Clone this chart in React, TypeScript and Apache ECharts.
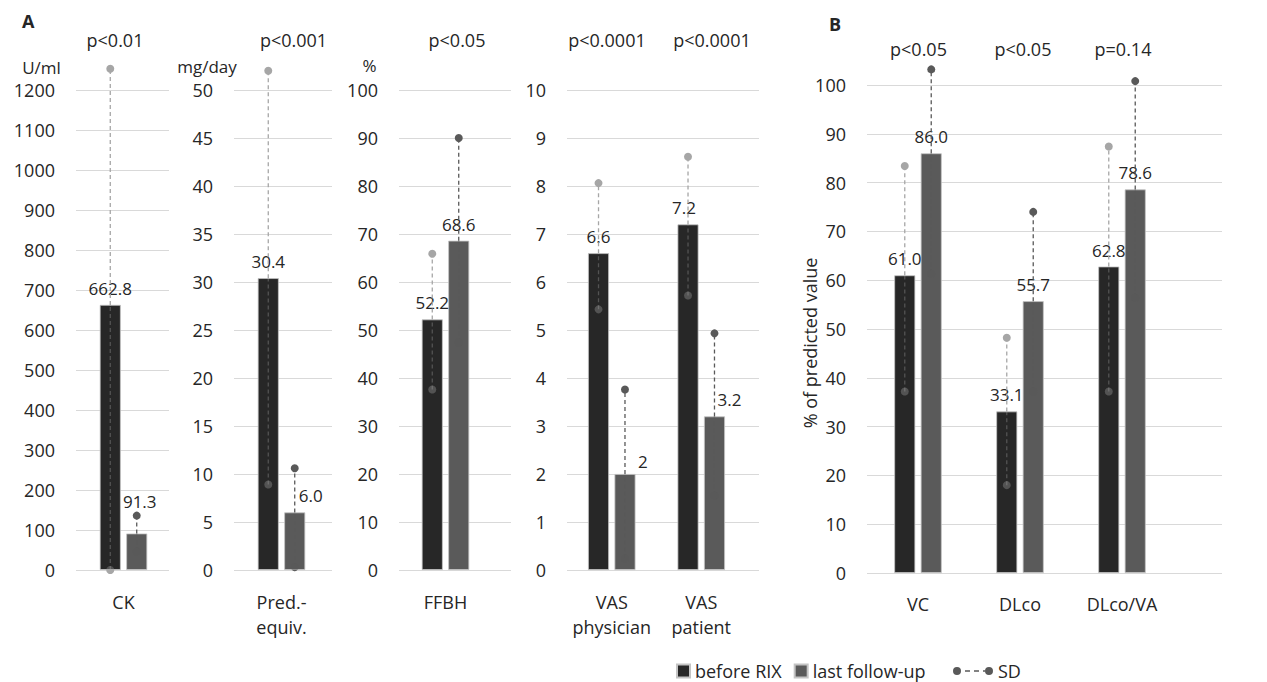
import React, { useEffect, useRef } from "react";
import * as echarts from "echarts";

// ---------- data ----------
const ckCategories = ["CK"];
const ckBefore = [662.8];
const ckAfter = [91.3];
const ckBeforeSd = [[1253, 0]]; // [upper dot, lower dot]
const ckAfterSd = [[136, 46]];

const predCategories = ["Pred.-\nequiv."];
const predBefore = [30.4];
const predAfter = [6.0];
const predBeforeSd = [[52.0, 8.9]];
const predAfterSd = [[10.6, 0.3]];

const ffbhCategories = ["FFBH"];
const ffbhBefore = [52.2];
const ffbhAfter = [68.6];
const ffbhBeforeSd = [[65.9, 37.6]];
const ffbhAfterSd = [[90.0, 47.4]];

const vasCategories = ["VAS\nphysician", "VAS\npatient"];
const vasBefore = [6.6, 7.2];
const vasAfter = [2, 3.2];
const vasBeforeSd = [[8.06, 5.43], [8.61, 5.72]];
const vasAfterSd = [[3.76, 0.24], [4.93, 1.55]];

const lungCategories = ["VC", "DLco", "DLco/VA"];
const lungBefore = [61.0, 33.1, 62.8];
const lungAfter = [86.0, 55.7, 78.6];
const lungBeforeSd = [[83.4, 37.2], [48.2, 18.0], [87.4, 37.2]];
const lungAfterSd = [[103.2, 61.3], [74.0, 37.2], [100.8, 56.4]];

const axisMax = [1200, 50, 100, 10, 100];
const axisInterval = [100, 5, 10, 1, 10];
const unitLabels = ["U/ml", "mg/day", "%"];
const pValuesA = ["p<0.01", "p<0.001", "p<0.05", "p<0.0001", "p<0.0001"];
const pValuesB = ["p<0.05", "p<0.05", "p=0.14"];
const seriesNames = ["before RIX", "last follow-up", "SD"];

// ---------- styles / layout ----------
const FONT = "'Open Sans', 'Noto Sans', sans-serif";
const TXT = "#262626";
const GRID = "#d9d9d9";
const C_BEFORE = "#272727";
const C_AFTER = "#5a5a5a";
const SD_BEFORE = "#a6a6a6";
const SD_AFTER = "#595959";
const BAR_W = 21;
const BAR_GAP = 0.26;
const SD_OFF = (BAR_W + BAR_W * BAR_GAP) / 2;

const panels = [
  { cats: ckCategories, b: ckBefore, a: ckAfter, bs: ckBeforeSd, as: ckAfterSd, ax: 0,
    lines: [76, 93], bars: [77, 93], top: 90, h: 480, fmt: 1, lm: 19,
    offA: { 0: [3, -15] }, offB: {} },
  { cats: predCategories, b: predBefore, a: predAfter, bs: predBeforeSd, as: predAfterSd, ax: 1,
    lines: [234, 98], bars: [234, 95], top: 90, h: 480, fmt: 1, lm: 19,
    offA: { 0: [16, 0] }, offB: {} },
  { cats: ffbhCategories, b: ffbhBefore, a: ffbhAfter, bs: ffbhBeforeSd, as: ffbhAfterSd, ax: 2,
    lines: [399, 112], bars: [399, 93], top: 90, h: 480, fmt: 1, lm: 19,
    offA: {}, offB: {} },
  { cats: vasCategories, b: vasBefore, a: vasAfter, bs: vasBeforeSd, as: vasAfterSd, ax: 3,
    lines: [567, 192], bars: [567, 179], top: 90, h: 480, fmt: 0, lm: 19,
    offA: { 0: [18, 4], 1: [15, 0] }, offB: { 1: [-4, 0] } },
  { cats: lungCategories, b: lungBefore, a: lungAfter, bs: lungBeforeSd, as: lungAfterSd, ax: 4,
    lines: [867, 355], bars: [867, 306], top: 85, h: 488, fmt: 1, lm: 18,
    offA: {}, offB: {} },
];

const pPosA = [[115, 40], [293.5, 40], [457, 40], [607, 40], [712, 40]];
const pPosB = [[918.5, 49], [1023, 49], [1123, 49]];
const unitPos = [[41.5, 67], [207, 66], [369.5, 65]];

// SD whisker drawn over the bars (lower part faint, upper part solid)
function sdRender(offset: number, color: string) {
  return (params: any, api: any) => {
    const idx = api.value(0);
    const pm = api.coord([idx, api.value(1)]);
    const ph = api.coord([idx, api.value(2)]);
    const pl = api.coord([idx, api.value(3)]);
    const x = pm[0] + offset;
    return {
      type: "group",
      children: [
        { type: "line", shape: { x1: x, y1: pl[1], x2: x, y2: pm[1] },
          style: { stroke: color, lineWidth: 1.3, lineDash: [4, 3], opacity: 0.35 } },
        { type: "line", shape: { x1: x, y1: pm[1], x2: x, y2: ph[1] },
          style: { stroke: color, lineWidth: 1.3, lineDash: [4, 3] } },
        { type: "circle", shape: { cx: x, cy: pl[1], r: 4 }, style: { fill: color, opacity: 0.35 } },
        { type: "circle", shape: { cx: x, cy: ph[1], r: 4 }, style: { fill: color } },
      ],
    };
  };
}
// lower SD dot drawn beneath the bars (visible only where not covered)
function sdUnderRender(offset: number, color: string) {
  return (params: any, api: any) => {
    const idx = api.value(0);
    const pm = api.coord([idx, api.value(1)]);
    const pl = api.coord([idx, api.value(3)]);
    const x = pm[0] + offset;
    return { type: "circle", shape: { cx: x, cy: pl[1], r: 4 }, style: { fill: color } };
  };
}

function buildOption() {
  const grid: any[] = [];
  const xAxis: any[] = [];
  const yAxis: any[] = [];
  const series: any[] = [];

  panels.forEach((p) => {
    const max = axisMax[p.ax];
    const interval = axisInterval[p.ax];
    const gi = grid.length;
    grid.push({ left: p.lines[0], width: p.lines[1], top: p.top, height: p.h });
    xAxis.push({ gridIndex: gi, type: "value", show: false, min: 0, max: 1 });
    yAxis.push({
      gridIndex: gi, type: "value", min: 0, max, interval,
      axisLine: { show: false }, axisTick: { show: false },
      axisLabel: { fontSize: 18, color: TXT, fontFamily: FONT, margin: 21, formatter: (v: number) => String(v) },
      splitLine: { lineStyle: { color: GRID, width: 1 } },
    });
    const bi = grid.length;
    grid.push({ left: p.bars[0], width: p.bars[1], top: p.top, height: p.h });
    xAxis.push({
      gridIndex: bi, type: "category", data: p.cats,
      axisLine: { show: false }, axisTick: { show: false },
      axisLabel: { fontSize: 18, color: TXT, fontFamily: FONT, margin: p.lm, lineHeight: 25, interval: 0 },
    });
    yAxis.push({ gridIndex: bi, type: "value", min: 0, max, interval, show: false });

    const fmt = (v: number) => (p.fmt === 1 ? v.toFixed(1) : String(v));
    const mk = (vals: number[], offs: any) =>
      vals.map((v, i) => (offs[i] ? { value: v, label: { offset: offs[i] } } : v));
    const labelCfg = {
      show: true, position: "top", distance: 8, fontSize: 17, color: TXT, fontFamily: FONT,
      formatter: (d: any) => fmt(d.value),
    };
    const sdData = (vals: number[], sd: number[][]) =>
      p.cats.map((c, i) => [i, vals[i], sd[i][0], sd[i][1]]);

    series.push({
      name: seriesNames[2], type: "custom", xAxisIndex: bi, yAxisIndex: bi, z: 1,
      renderItem: sdUnderRender(-SD_OFF, SD_BEFORE), itemStyle: { color: SD_AFTER },
      encode: { x: 0, y: [1, 2, 3] }, data: sdData(p.b, p.bs),
    });
    series.push({
      name: seriesNames[2], type: "custom", xAxisIndex: bi, yAxisIndex: bi, z: 1,
      renderItem: sdUnderRender(SD_OFF, SD_AFTER), itemStyle: { color: SD_AFTER },
      encode: { x: 0, y: [1, 2, 3] }, data: sdData(p.a, p.as),
    });
    series.push({
      name: seriesNames[0], type: "bar", xAxisIndex: bi, yAxisIndex: bi, z: 2,
      barWidth: BAR_W, barGap: BAR_GAP * 100 + "%",
      itemStyle: { color: C_BEFORE, borderColor: "#c4c4c4", borderWidth: 0.8 },
      label: labelCfg, data: mk(p.b, p.offB),
    });
    series.push({
      name: seriesNames[1], type: "bar", xAxisIndex: bi, yAxisIndex: bi, z: 2,
      barWidth: BAR_W, barGap: BAR_GAP * 100 + "%",
      itemStyle: { color: C_AFTER, borderColor: "#c4c4c4", borderWidth: 0.8 },
      label: labelCfg, data: mk(p.a, p.offA),
    });
    series.push({
      name: seriesNames[2], type: "custom", xAxisIndex: bi, yAxisIndex: bi, z: 5,
      renderItem: sdRender(-SD_OFF, SD_BEFORE), itemStyle: { color: SD_AFTER },
      encode: { x: 0, y: [1, 2, 3] }, data: sdData(p.b, p.bs),
    });
    series.push({
      name: seriesNames[2], type: "custom", xAxisIndex: bi, yAxisIndex: bi, z: 5,
      renderItem: sdRender(SD_OFF, SD_AFTER), itemStyle: { color: SD_AFTER },
      encode: { x: 0, y: [1, 2, 3] }, data: sdData(p.a, p.as),
    });
  });

  const txt = (text: string, x: number, y: number, extra: any = {}) => ({
    type: "text", x, y, silent: true,
    style: { text, fill: TXT, font: `18px ${FONT}`, align: "center", verticalAlign: "middle", ...extra },
  });

  const graphic: any[] = [
    txt("A", 22, 21, { font: `bold 18px ${FONT}`, align: "left" }),
    txt("B", 829, 24, { font: `bold 18px ${FONT}`, align: "left" }),
    ...pValuesA.map((t, i) => txt(t, pPosA[i][0], pPosA[i][1])),
    ...pValuesB.map((t, i) => txt(t, pPosB[i][0], pPosB[i][1])),
    ...unitLabels.map((t, i) => txt(t, unitPos[i][0], unitPos[i][1], { font: `17px ${FONT}` })),
    { ...txt("% of predicted value", 810, 343), rotation: Math.PI / 2 },
  ];

  const sdIcon =
    "path://M0,4a4,4 0 1,0 8,0a4,4 0 1,0 -8,0zM12,3.3h5v1.4h-5zM21,3.3h5v1.4h-5zM30,3.3h2v1.4h-2zM32,4a4,4 0 1,0 8,0a4,4 0 1,0 -8,0z";

  return {
    animation: false,
    backgroundColor: "#ffffff",
    grid, xAxis, yAxis, series, graphic,
    legend: [
      {
        left: 671, top: 657, itemWidth: 13, itemHeight: 13, itemGap: 12,
        textStyle: { fontSize: 18, color: TXT, fontFamily: FONT },
        data: [
          { name: seriesNames[0], icon: "rect" },
          { name: seriesNames[1], icon: "rect" },
        ],
        selectedMode: false,
      },
      {
        left: 948, top: 657, itemWidth: 40, itemHeight: 8,
        textStyle: { fontSize: 18, color: TXT, fontFamily: FONT },
        data: [{ name: seriesNames[2], icon: sdIcon, itemStyle: { color: SD_AFTER } }],
        selectedMode: false,
      },
    ],
  };
}

export default function App() {
  const ref = useRef<HTMLDivElement>(null);
  useEffect(() => {
    if (!ref.current) return;
    const chart = echarts.init(ref.current, undefined, { renderer: "svg" });
    chart.setOption(buildOption() as any);
    return () => chart.dispose();
  }, []);
  return (
    <div
      ref={ref}
      style={{ position: "fixed", left: 0, top: 0, width: 1267, height: 682, background: "#fff" }}
    />
  );
}
